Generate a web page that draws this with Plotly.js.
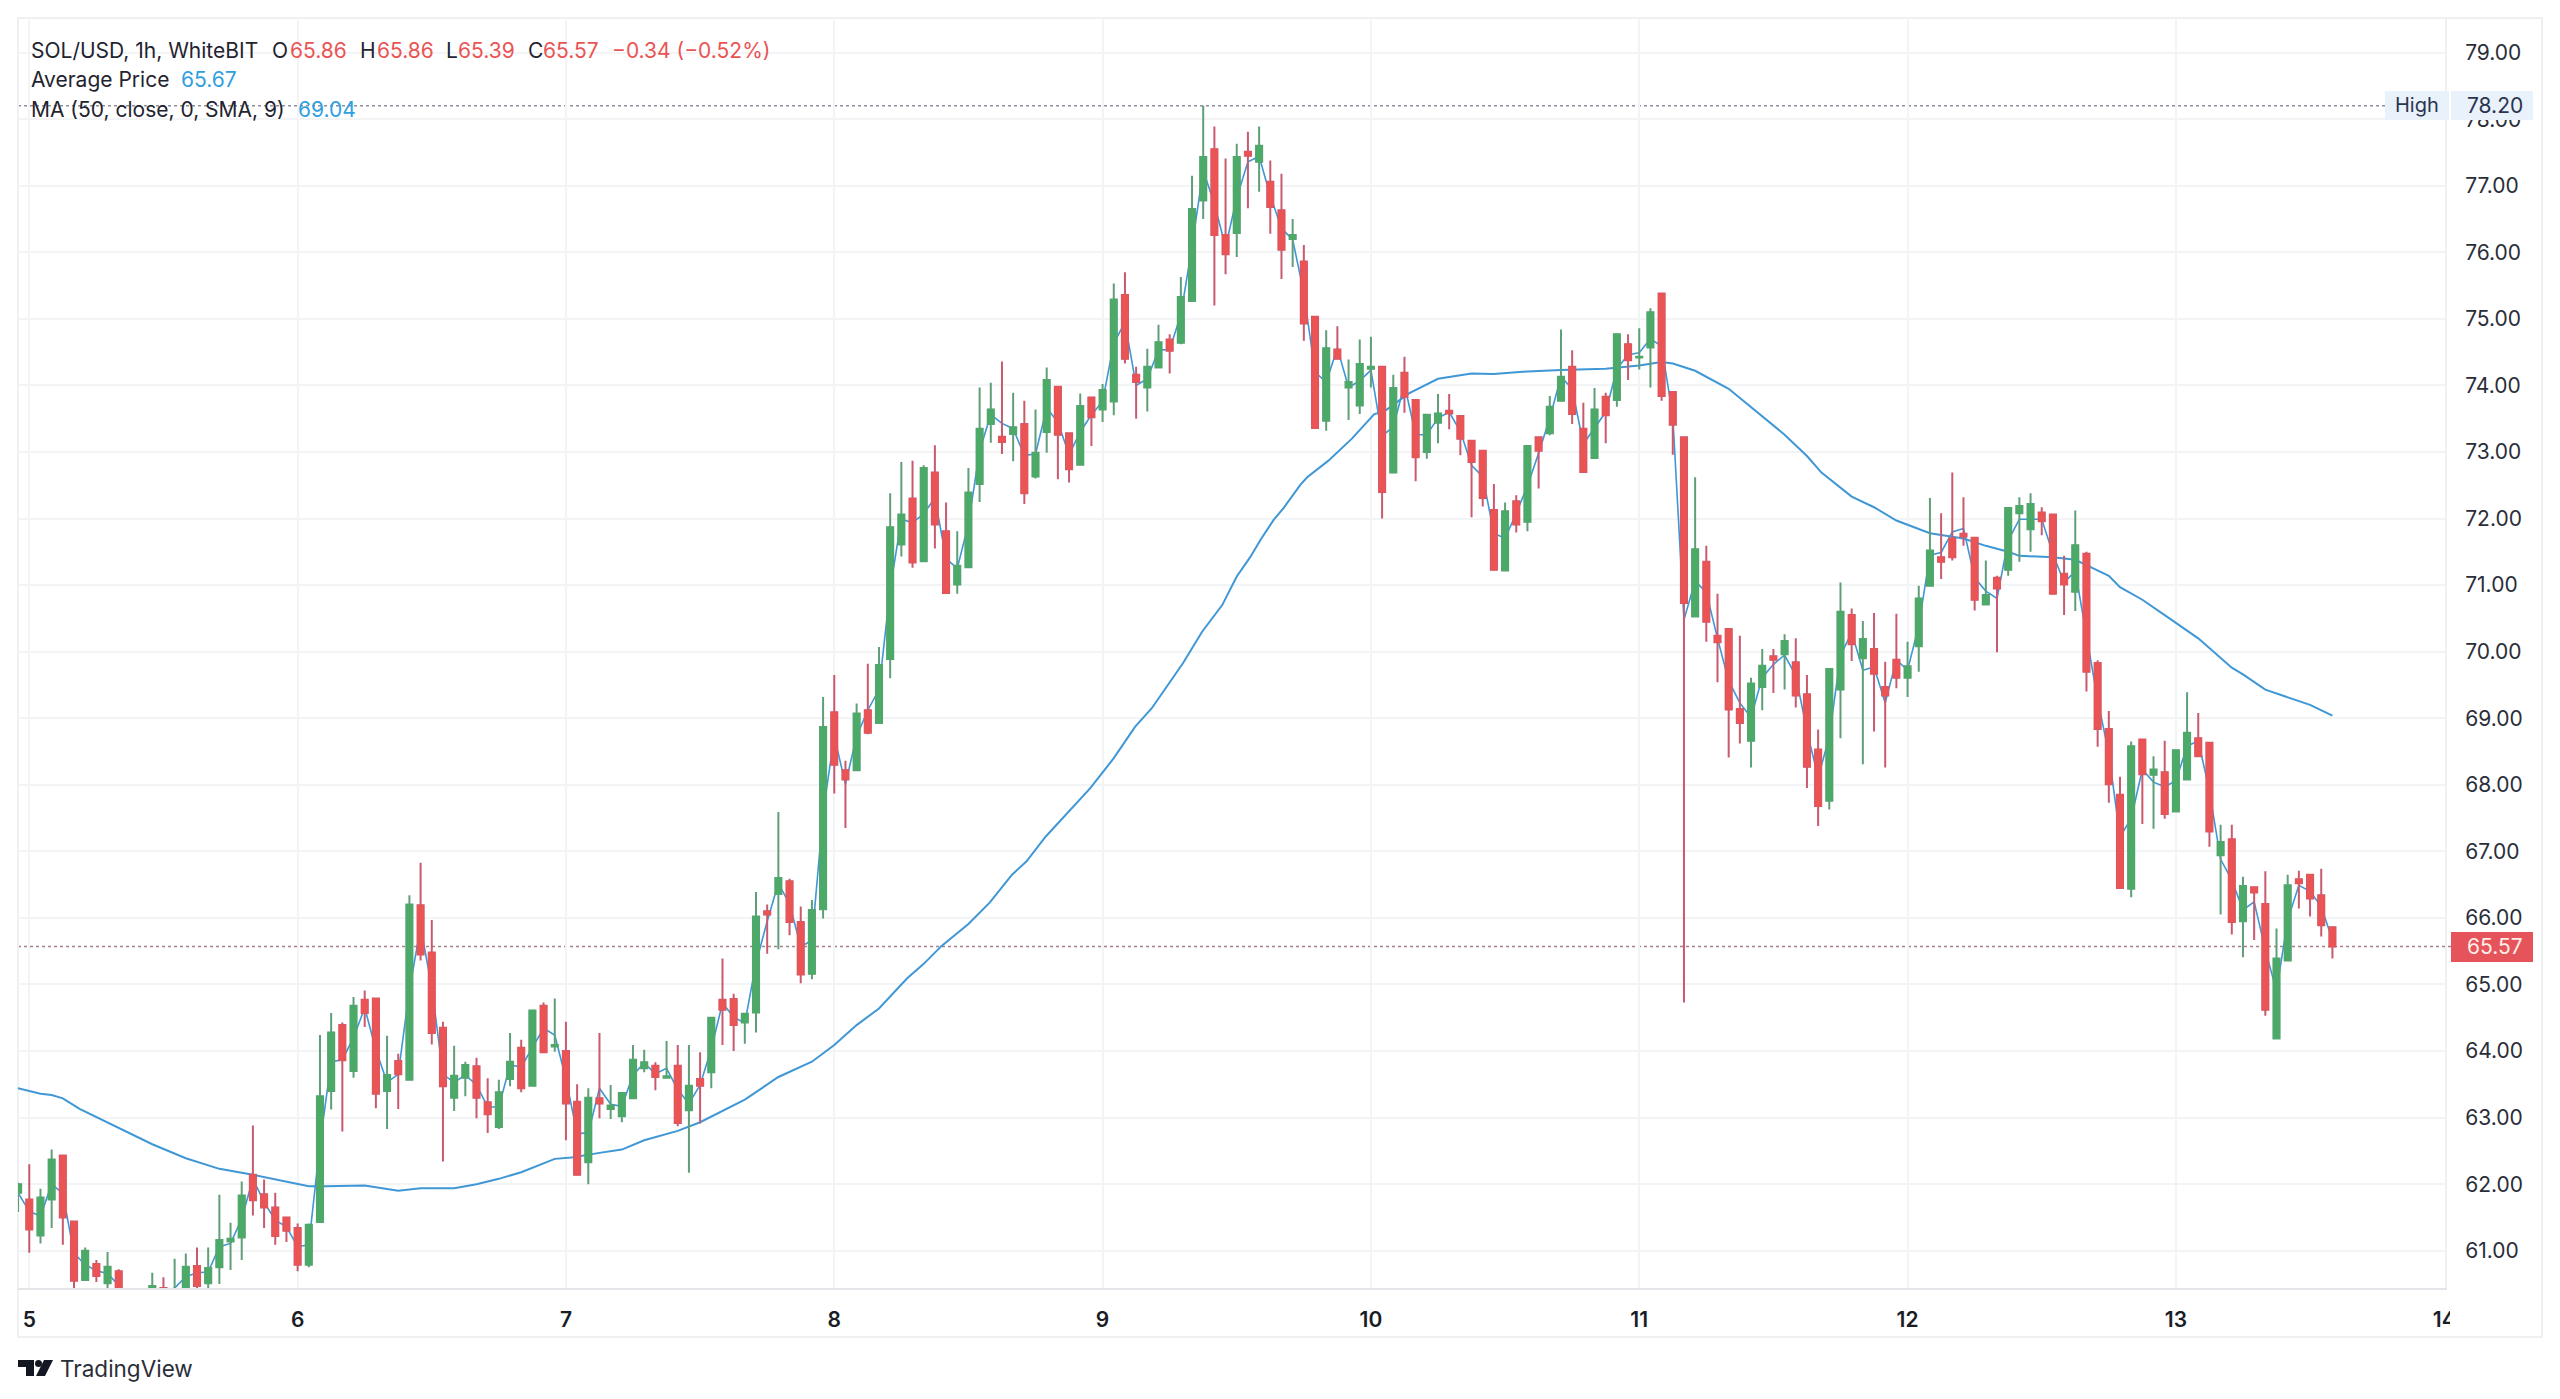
<!DOCTYPE html>
<html>
<head>
<meta charset="utf-8">
<script src="https://cdn.plot.ly/plotly-3.0.1.min.js"></script>
<style>html,body{margin:0;padding:0;background:#fff}#chart{width:2560px;height:1399px}</style>
</head>
<body>
<div id="chart"></div>
<script>
// Hourly candles, first candle is one hour before the "5" tick
const firstHour = -1;
const open = [
61.87,61.77,61.23,61.77,62.43,61.44,60.56,60.80,60.51,60.69,
60.30,60.10,60.30,60.44,60.25,60.42,60.77,60.51,60.75,61.14,
61.20,62.14,61.85,61.65,61.50,61.34,60.79,61.43,63.40,64.39,
63.70,64.77,64.79,63.40,63.85,63.57,66.19,65.48,64.35,63.30,
63.60,63.77,63.23,62.86,63.58,64.05,63.48,64.68,64.07,64.00,
63.24,62.33,63.29,63.13,63.02,63.29,63.74,63.78,63.60,63.78,
63.11,63.58,63.68,64.77,64.78,64.43,64.58,66.10,66.36,66.55,
65.94,65.16,66.13,69.09,68.22,68.22,69.12,68.93,69.89,71.61,
72.30,71.36,72.69,71.81,71.01,71.27,72.52,73.42,73.23,73.27,
73.42,72.63,73.30,73.98,73.28,72.81,73.82,73.64,73.76,75.36,
74.16,73.97,74.27,74.69,74.64,75.27,76.78,77.55,76.26,76.29,
77.51,77.36,77.06,76.63,76.20,75.86,75.03,73.47,74.54,73.97,
73.70,74.25,74.28,72.69,74.19,73.78,73.00,73.44,73.62,73.54,
73.17,73.02,72.13,71.22,72.26,71.95,73.22,73.28,73.77,74.28,
73.35,72.91,73.83,73.78,74.62,74.42,74.57,75.38,73.90,73.22,
70.53,71.35,70.24,70.34,69.14,68.66,69.47,69.93,69.96,69.84,
69.36,68.53,67.76,69.43,70.55,69.90,70.04,69.47,69.88,69.61,
70.08,70.99,71.42,71.70,71.77,71.71,70.71,71.11,71.23,72.08,
71.84,72.09,72.06,71.17,70.90,71.47,69.83,68.84,67.85,66.44,
68.68,68.15,68.19,67.60,68.08,68.70,68.63,66.94,67.18,65.95,
66.46,66.21,64.19,65.36,66.58,66.65,66.34,65.86];
const high = [
62.02,62.30,61.93,62.52,62.43,61.44,61.05,60.86,60.98,60.72,
60.38,60.40,60.67,60.60,60.88,60.96,61.05,61.05,61.84,61.42,
62.04,62.88,62.07,61.87,61.50,61.41,61.41,64.24,64.57,64.43,
64.81,64.91,64.79,64.23,63.96,66.34,66.83,65.97,64.44,64.08,
63.84,63.90,63.59,63.57,64.27,64.17,64.61,64.73,64.79,64.44,
63.50,63.44,64.27,63.49,63.37,64.09,64.02,63.83,64.15,64.09,
64.09,63.98,64.50,65.39,64.86,64.56,66.39,66.20,67.59,66.59,
66.17,66.27,69.32,69.65,68.36,69.22,69.82,70.07,72.38,72.85,
72.87,72.80,73.10,72.24,71.81,72.76,73.97,74.04,74.36,73.89,
73.77,73.64,74.27,73.98,73.28,73.88,73.82,74.02,75.53,75.70,
74.28,74.55,74.91,74.77,75.63,77.15,78.20,77.89,77.41,77.63,
77.81,77.89,77.38,77.18,76.50,76.11,75.03,74.83,74.89,74.39,
74.69,74.73,74.28,74.16,74.43,73.78,73.56,73.87,73.87,73.54,
73.17,73.02,72.52,72.24,72.35,73.09,73.22,73.84,74.84,74.53,
73.74,73.96,73.89,74.77,74.77,74.86,75.16,75.38,73.90,73.22,
72.62,71.59,70.87,70.34,70.24,69.61,70.04,70.04,70.26,70.20,
69.65,68.83,69.74,71.04,70.65,70.46,70.58,69.85,70.57,70.15,
70.99,72.31,72.08,72.69,72.32,71.71,71.37,71.14,72.16,72.32,
72.38,72.17,72.06,71.44,72.12,71.50,69.87,69.11,68.12,68.65,
68.68,68.43,68.66,68.52,69.39,69.08,68.63,67.40,67.40,66.62,
66.46,66.70,65.84,66.65,66.71,66.65,66.74,65.86];
const low = [
61.58,60.97,61.11,61.34,61.09,60.40,60.56,60.53,60.40,60.20,
60.00,60.00,60.20,60.20,60.20,60.30,60.40,60.42,60.50,60.71,
60.86,61.53,61.34,61.09,61.13,60.69,60.75,61.43,63.12,62.79,
63.60,64.36,63.14,62.83,63.13,63.57,65.36,64.10,62.34,63.10,
63.32,62.99,62.77,62.83,63.47,63.38,63.48,63.98,63.99,62.66,
62.14,62.00,62.99,62.98,62.93,63.29,63.68,63.41,63.60,62.87,
62.17,62.91,63.44,64.09,64.00,64.11,64.28,65.46,65.53,65.74,
65.02,65.08,65.99,67.87,67.35,68.22,68.76,68.93,69.60,71.43,
71.26,71.36,71.55,70.88,70.87,71.27,72.25,73.14,72.97,72.86,
72.22,72.60,72.99,72.59,72.54,72.81,73.09,73.45,73.55,74.33,
73.50,73.61,74.27,74.18,74.62,75.27,76.50,75.20,75.67,75.93,
76.66,76.91,76.28,75.60,75.78,74.67,73.36,73.32,74.40,73.48,
73.57,73.97,72.00,72.69,73.59,72.56,72.90,73.13,73.34,72.95,
72.02,72.18,71.23,71.22,71.79,71.81,72.45,73.25,73.77,73.42,
72.70,72.91,73.13,73.68,74.08,74.24,73.97,73.77,72.96,64.73,
70.53,70.15,69.54,68.41,68.62,68.26,69.12,69.38,69.43,69.16,
67.95,67.38,67.63,68.70,69.86,68.31,68.80,68.26,69.45,69.32,
69.70,70.99,71.09,71.37,71.59,70.62,70.71,69.99,71.14,71.35,
71.50,71.75,70.87,70.55,70.61,69.40,68.57,67.73,66.45,66.31,
67.41,67.34,67.49,67.60,68.08,68.43,67.07,66.05,65.75,65.41,
65.67,64.53,64.19,65.36,66.14,66.02,65.72,65.39];
const close = [
62.00,61.32,61.80,62.37,61.50,60.55,61.00,60.62,60.76,60.30,
60.10,60.30,60.47,60.30,60.42,60.76,60.47,60.74,61.16,61.18,
61.83,61.76,61.65,61.22,61.30,60.79,61.39,63.32,64.28,63.86,
64.68,64.57,63.36,63.64,63.65,66.20,65.45,64.27,63.47,63.63,
63.79,63.30,63.05,63.38,63.84,63.44,64.61,63.98,64.09,63.21,
62.14,63.30,63.21,63.18,63.37,63.87,63.83,63.61,63.62,62.92,
63.48,63.48,64.50,64.62,64.39,64.56,66.02,66.05,66.60,65.94,
65.15,66.12,68.87,68.30,68.08,69.07,68.78,69.80,71.87,72.06,
71.34,72.76,71.91,70.88,71.29,72.39,73.35,73.64,73.15,73.37,
72.38,72.99,74.08,73.26,72.74,73.69,73.52,73.93,75.29,74.40,
74.05,74.28,74.65,74.52,75.33,76.65,77.43,76.26,75.97,77.43,
77.45,77.60,76.68,76.04,76.26,74.93,73.36,74.56,74.40,74.05,
74.32,74.28,72.40,73.96,73.83,72.92,73.56,73.58,73.58,73.20,
72.85,72.31,71.23,72.11,71.91,73.09,73.02,73.68,74.13,73.57,
72.70,73.64,73.55,74.77,74.38,74.43,75.10,73.84,73.41,70.73,
71.54,70.45,70.14,69.13,68.93,69.52,69.79,69.88,70.16,69.34,
68.27,67.68,69.74,70.60,70.11,70.19,69.67,69.34,69.61,69.78,
70.80,71.52,71.35,71.42,71.73,70.78,70.85,70.95,72.16,72.19,
72.22,71.96,70.87,71.01,71.60,69.70,68.84,68.01,66.45,68.58,
68.16,68.23,67.56,68.52,68.78,68.43,67.30,67.14,65.94,66.48,
66.38,64.62,65.39,66.49,66.52,66.29,65.89,65.57];
const avgPrice = [
61.87,61.59,61.52,62.00,61.86,60.96,60.79,60.70,60.66,60.48,
60.20,60.20,60.41,60.38,60.44,60.61,60.67,60.68,61.06,61.11,
61.48,62.08,61.73,61.46,61.36,61.06,61.09,62.61,63.84,63.87,
64.20,64.65,64.02,63.53,63.65,64.92,65.86,64.96,63.65,63.53,
63.64,63.49,63.16,63.16,63.79,63.76,64.05,64.34,64.24,63.58,
62.76,62.77,63.44,63.20,63.17,63.64,63.82,63.66,63.74,63.42,
63.21,63.49,64.03,64.72,64.51,64.42,65.32,65.95,66.52,66.21,
65.57,65.66,67.58,68.73,68.01,68.73,69.12,69.43,70.94,71.99,
71.94,72.07,72.31,71.40,71.25,71.92,73.02,73.56,73.43,73.35,
72.95,72.97,73.66,73.45,72.96,73.30,73.56,73.76,74.63,74.95,
74.00,74.10,74.53,74.54,75.06,76.09,77.23,76.73,76.08,76.82,
77.36,77.44,76.85,76.36,76.19,75.39,74.20,74.05,74.56,73.97,
74.07,74.23,73.24,73.38,74.01,73.26,73.26,73.51,73.60,73.31,
72.80,72.63,71.78,71.70,72.08,72.49,72.98,73.51,74.13,73.95,
73.12,73.36,73.60,74.25,74.46,74.49,74.70,74.59,73.54,70.48,
71.06,70.89,70.20,69.56,69.23,69.01,69.61,69.81,69.95,69.64,
68.81,68.11,68.72,69.94,70.29,69.72,69.77,69.23,69.88,69.72,
70.39,71.45,71.49,71.80,71.85,71.11,70.91,70.80,71.67,71.99,
71.99,71.99,71.47,71.04,71.21,70.27,69.28,68.47,67.22,67.49,
68.23,68.04,67.97,68.06,68.58,68.66,67.91,66.88,66.57,66.12,
66.24,65.52,64.90,65.97,66.49,66.40,66.17,65.67];
const maHour = [
-1.02,1,2,3,4.5,6,8,11,14,17,20,23,25,26.5,30,33,35,38,40,42,44,47,48.5,51,53,55,58,60,64,67,70,72,74,76,
78.5,80,81.6,84,85.9,87.9,89.2,90.9,92.8,94.9,97,98.9,100.4,103.2,104.9,106.7,108,109.2,110.2,111.3,112.2,113.7,114.3,
116.2,118.3,120.3,121.2,123.4,126,129,131,134,137,141,144,146,147,
149,152,155,157,159,160.3,163,165,167,170,173,175,177,178,181,183,184,186,187,189,191,194,197,198,200,202,204,206];
const maValue = [
63.44,63.36,63.34,63.29,63.13,63.01,62.84,62.60,62.39,62.23,62.14,62.04,61.97,61.97,61.98,61.90,61.94,61.94,62.00,62.08,62.18,62.38,62.40,62.47,62.52,62.66,62.80,62.93,63.27,63.61,63.84,64.09,64.39,64.64,
65.09,65.31,65.58,65.91,66.23,66.65,66.85,67.22,67.57,67.95,68.40,68.87,69.15,69.83,70.30,70.70,71.13,71.42,71.70,71.98,72.16,72.51,72.62,
72.87,73.20,73.57,73.61,73.88,74.10,74.18,74.17,74.21,74.23,74.25,74.30,74.35,74.33,
74.22,73.95,73.53,73.26,72.94,72.69,72.33,72.17,71.97,71.78,71.70,71.59,71.50,71.44,71.42,71.38,71.30,71.14,70.97,70.78,70.55,70.20,69.76,69.66,69.43,69.31,69.20,69.04];
const dayTicks = [0,24,48,72,96,120,144,168,192,216];
const dayLabels = ["5","6","7","8","9","10","11","12","13","14"];
const priceTicks = [61,62,63,64,65,66,67,68,69,70,71,72,73,74,75,76,77,78,79];
const highPrice = 78.20;
const lastPrice = 65.57;

const hours = open.map((_, i) => firstHour + i);
const bodyTop = open.map((o, i) => Math.max(o, close[i]));
const bodyBottom = open.map((o, i) => Math.min(o, close[i]));

// plot frame, in page pixels
const L = 18, R = 2445, T = 18, B = 1288;
const px = x => (x - L) / (R - L);
const py = y => 1 - (y - T) / (B - T);
const xRange = [-1.01, 216.07];
const yRange = [60.44, 79.52];

const GREEN = '#4caa68', RED = '#ea5455', GREEN_WICK = '#5f9f78', RED_WICK = '#c95a6e';
const BLUE = '#3f97d6', FONT = 'Inter, "Liberation Sans", sans-serif', INK = '#1f2430';

const traces = [
  {type:'scatter', mode:'lines', x:maHour, y:maValue, line:{color:BLUE, width:2}, hoverinfo:'skip', name:'MA'},
  {type:'scatter', mode:'lines', x:hours, y:avgPrice, line:{color:BLUE, width:1.6}, hoverinfo:'skip', name:'Average Price'},
  {type:'candlestick', x:hours, open:open, high:high, low:low, close:close, xaxis:'x2', yaxis:'y2',
   increasing:{line:{color:GREEN_WICK, width:2}, fillcolor:GREEN},
   decreasing:{line:{color:RED_WICK, width:2}, fillcolor:RED}, whiskerwidth:0, name:'wicks', hoverinfo:'skip'},
  {type:'candlestick', x:hours, open:open, close:close, high:bodyTop, low:bodyBottom, xaxis:'x2', yaxis:'y2',
   increasing:{line:{color:GREEN, width:1}, fillcolor:GREEN},
   decreasing:{line:{color:RED, width:1}, fillcolor:RED}, whiskerwidth:0, name:'bodies', hoverinfo:'skip'}
];

function label(x, y, text, color, opts) {
  return Object.assign({xref:'paper', yref:'paper', x:px(x), y:py(y), text:text, showarrow:false,
    xanchor:'left', yanchor:'middle', font:{family:FONT, size:21, color:color}}, opts || {});
}
const annotations = [
  label(29, 50, 'SOL/USD, 1h, WhiteBIT', INK),
  label(270, 50, 'O', INK), label(288, 50, '65.86', RED),
  label(358, 50, 'H', INK), label(375, 50, '65.86', RED),
  label(444, 50, 'L', INK), label(456, 50, '65.39', RED),
  label(526, 50, 'C', INK), label(541, 50, '65.57', RED),
  label(610, 50, '\u22120.34 (\u22120.52%)', RED),
  label(29, 79, 'Average Price', INK), label(179, 79, '65.67', '#2f9fe0'),
  label(29, 109, 'MA (50, close, 0, SMA, 9)', INK), label(296, 109, '69.04', '#2f9fe0'),
  label(2417, 105, 'High', '#2a3550', {xanchor:'center', font:{family:FONT, size:20, color:'#2a3550'}}),
  label(2465, 105, '78.20', '#2a3550', {font:{family:FONT, size:21, color:'#2a3550'}}),
  label(2465, 946, '65.57', '#fdeee9', {font:{family:FONT, size:21, color:'#fdeee9'}}),
  label(58, 1368, 'TradingView', '#2a2e39', {font:{family:FONT, size:22.5, color:'#2a2e39'}})
];

function box(x0, y0, x1, y1, fill, layer, lineColor) {
  return {type:'rect', xref:'paper', yref:'paper', x0:px(x0), x1:px(x1), y0:py(y0), y1:py(y1),
    fillcolor:fill, line:{width:lineColor?2:0, color:lineColor||fill}, layer:layer||'above'};
}
function poly(points, fill) {
  return {type:'path', xref:'paper', yref:'paper', fillcolor:fill, line:{width:0}, layer:'above',
    path:'M' + points.map(p => px(p[0]) + ',' + py(p[1])).join('L') + 'Z'};
}
const FRAME = '#eff0f2';
const shapes = [
  {type:'line', xref:'paper', yref:'y', x0:0, x1:px(2385), y0:highPrice, y1:highPrice, layer:'below',
   line:{color:'#8d8f9c', width:1.5, dash:'dot'}},
  {type:'line', xref:'paper', yref:'y', x0:0, x1:px(2451), y0:lastPrice, y1:lastPrice, layer:'below',
   line:{color:'#a58088', width:1.5, dash:'dot'}},
  box(18, 18, 2542, 1337, 'rgba(0,0,0,0)', 'below', FRAME),
  box(2450, 1292, 2538, 1335, '#ffffff', 'above'),
  box(2385, 91, 2449, 120, '#e9f1fb', 'above'),
  box(2451, 91, 2533, 120, '#e9f1fb', 'above'),
  box(2451, 932, 2533, 962, '#e5545a', 'above'),
  poly([[18,1360],[34,1360],[34,1376],[26,1376],[26,1367],[18,1367]], '#131722'),
  {type:'circle', xref:'paper', yref:'paper', x0:px(35), x1:px(42), y0:py(1360), y1:py(1367),
   fillcolor:'#131722', line:{width:0}, layer:'above'},
  poly([[44,1360],[53,1360],[45,1376],[36,1376]], '#131722')
];

const layout = {
  width:2560, height:1399, paper_bgcolor:'#ffffff', plot_bgcolor:'#ffffff',
  margin:{l:L, r:2560-R, t:T, b:1399-B, pad:0}, showlegend:false, boxmode:'overlay', boxgap:0.22,
  font:{family:FONT, color:INK},
  xaxis:{type:'linear', range:xRange, tickmode:'array', tickvals:dayTicks, ticktext:dayLabels,
    showgrid:true, gridcolor:'#f3f4f6', gridwidth:2, zeroline:false, showline:true, linecolor:'#e4e5e8', linewidth:2,
    ticks:'', ticklabelstandoff:12, tickfont:{family:FONT, size:21, weight:600, color:'#1a1d26'}, rangeslider:{visible:false}},
  yaxis:{type:'linear', range:yRange, side:'right', tickmode:'array', tickvals:priceTicks, tickformat:'.2f',
    showgrid:true, gridcolor:'#f3f4f6', gridwidth:2, zeroline:false, showline:true, linecolor:FRAME, linewidth:2,
    ticks:'', ticklabelstandoff:14, tickfont:{family:FONT, size:21, color:'#2a2e39'}},
  xaxis2:{type:'linear', range:xRange, overlaying:'x', anchor:'y2', visible:false, rangeslider:{visible:false}},
  yaxis2:{type:'linear', range:yRange, overlaying:'y', anchor:'x2', side:'right', visible:false},
  annotations:annotations, shapes:shapes
};
Plotly.newPlot('chart', traces, layout, {displayModeBar:false, staticPlot:true});
</script>
</body>
</html>
